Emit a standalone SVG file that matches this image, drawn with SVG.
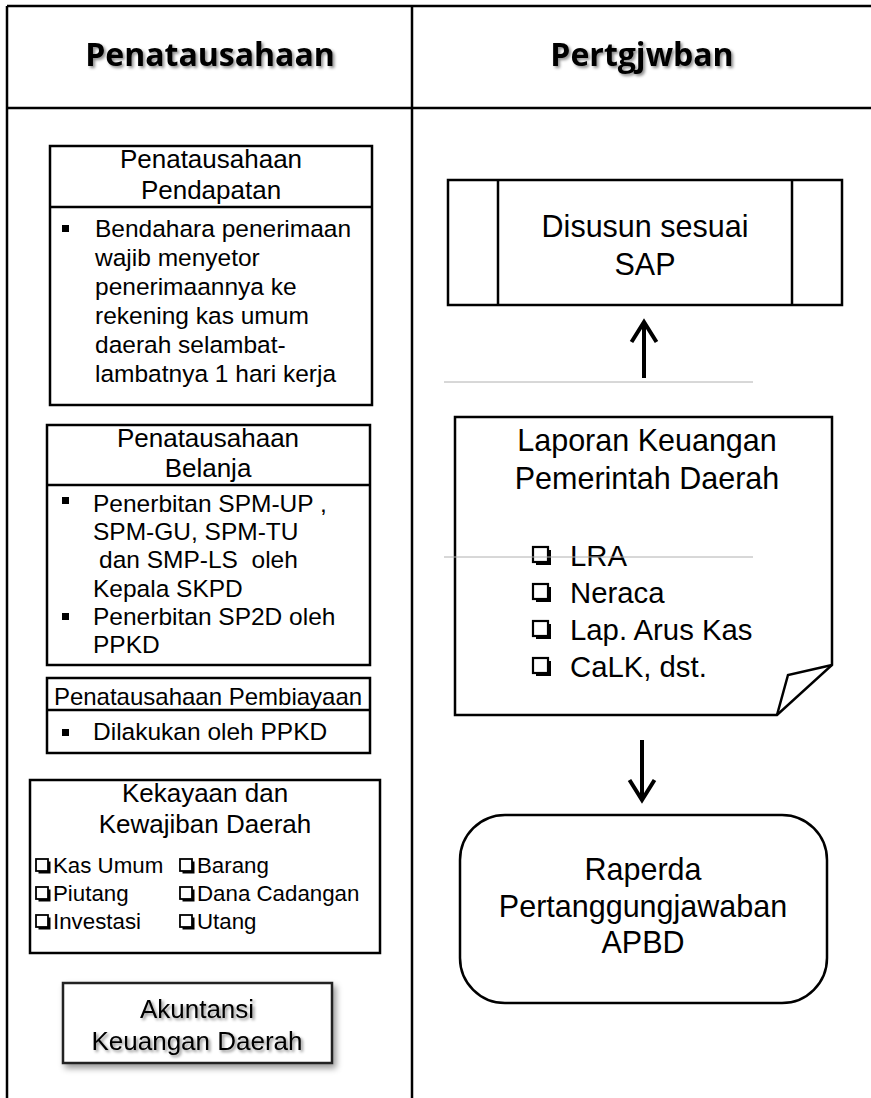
<svg xmlns="http://www.w3.org/2000/svg" width="871" height="1098" viewBox="0 0 871 1098">
<style>
  .t { font-family: "Liberation Sans", Arial, sans-serif; fill: #000; }
  .hd { font-family: "Open Sans", "Liberation Sans", sans-serif; font-weight: bold; font-size: 32px; text-anchor: middle; }
  .ttl { font-size: 26px; text-anchor: middle; }
  .body { font-size: 24.5px; }
  .item { font-size: 22.3px; }
  .big { font-size: 30.5px; }
  .lst { font-size: 29.3px; }
  .mid { text-anchor: middle; }
  .box { fill: #fff; stroke: #000; stroke-width: 2.5; }
  .ln { stroke: #000; stroke-width: 2.5; fill: none; }
  .grid { stroke: #000; stroke-width: 2.5; fill: none; }
  .thin { stroke: #b0b0b0; stroke-width: 1; }
  .bul { fill: #000; }
  .arrow { stroke: #000; stroke-width: 4; fill: none; }
</style>
<defs>
  <filter id="tshadow" x="-10%" y="-30%" width="120%" height="160%">
    <feDropShadow dx="2" dy="2" stdDeviation="1.5" flood-color="#000" flood-opacity="0.45"/>
  </filter>
  <filter id="bshadow" x="-10%" y="-20%" width="125%" height="145%">
    <feDropShadow dx="3" dy="4" stdDeviation="3" flood-color="#000" flood-opacity="0.4"/>
  </filter>
  <marker id="head" viewBox="-24 -16 28 32" refX="0" refY="0" markerWidth="28" markerHeight="32" markerUnits="userSpaceOnUse" orient="auto">
    <path d="M-20,-12.5 L0,0 L-20,12.5" fill="none" stroke="#000" stroke-width="4"/>
  </marker>
  <g id="cb-s">
    <rect x="2.5" y="2.5" width="12" height="12" fill="#000"/>
    <rect x="0" y="0" width="12" height="12" fill="#fff" stroke="#000" stroke-width="1.8"/>
  </g>
  <g id="cb-l">
    <rect x="3" y="3" width="15" height="15" fill="#000"/>
    <rect x="0" y="0" width="15" height="15" fill="#fff" stroke="#000" stroke-width="2.2"/>
  </g>
</defs>
<rect x="0" y="0" width="871" height="1098" fill="#fff"/>

<!-- table grid -->
<g id="table">
  <line class="grid" x1="7" y1="6" x2="871" y2="6"/>
  <line class="grid" x1="7" y1="6" x2="7" y2="1098"/>
  <line class="grid" x1="7" y1="108" x2="871" y2="108"/>
  <line class="grid" x1="412" y1="6" x2="412" y2="1098"/>
  <text class="hd" x="210" y="66" filter="url(#tshadow)">Penatausahaan</text>
  <text class="hd" x="642" y="66" filter="url(#tshadow)">Pertgjwban</text>
</g>

<!-- Penatausahaan Pendapatan -->
<g id="pendapatan">
  <rect class="box" x="50" y="146" width="322" height="259"/>
  <line class="ln" x1="50" y1="207" x2="372" y2="207"/>
  <text class="t ttl" x="211" y="168">Penatausahaan</text>
  <text class="t ttl" x="211" y="199">Pendapatan</text>
  <rect class="bul" x="62" y="225" width="7" height="7"/>
  <text class="t body" x="95" y="237">Bendahara penerimaan</text>
  <text class="t body" x="95" y="266">wajib menyetor</text>
  <text class="t body" x="95" y="295">penerimaannya ke</text>
  <text class="t body" x="95" y="324">rekening kas umum</text>
  <text class="t body" x="95" y="353">daerah selambat-</text>
  <text class="t body" x="95" y="382">lambatnya 1 hari kerja</text>
</g>

<!-- Penatausahaan Belanja -->
<g id="belanja">
  <rect class="box" x="47" y="425" width="323" height="240"/>
  <line class="ln" x1="47" y1="485" x2="370" y2="485"/>
  <text class="t ttl" x="208" y="447">Penatausahaan</text>
  <text class="t ttl" x="208" y="477">Belanja</text>
  <rect class="bul" x="62" y="497" width="7" height="7"/>
  <text class="t body" x="93" y="512">Penerbitan SPM-UP ,</text>
  <text class="t body" x="93" y="540">SPM-GU, SPM-TU</text>
  <text class="t body" x="99" y="568" xml:space="preserve">dan SMP-LS  oleh</text>
  <text class="t body" x="93" y="597">Kepala SKPD</text>
  <rect class="bul" x="62" y="613" width="7" height="7"/>
  <text class="t body" x="93" y="625">Penerbitan SP2D oleh</text>
  <text class="t body" x="93" y="653">PPKD</text>
</g>

<!-- Penatausahaan Pembiayaan -->
<g id="pembiayaan">
  <rect class="box" x="47" y="678" width="323" height="75"/>
  <line class="ln" x1="47" y1="710" x2="370" y2="710"/>
  <text class="t mid" x="208" y="705" style="font-size:24px">Penatausahaan Pembiayaan</text>
  <rect class="bul" x="62" y="729" width="7" height="7"/>
  <text class="t body" x="93" y="740">Dilakukan oleh PPKD</text>
</g>

<!-- Kekayaan dan Kewajiban Daerah -->
<g id="kekayaan">
  <rect class="box" x="30" y="780" width="350" height="173"/>
  <text class="t ttl" x="205" y="802">Kekayaan dan</text>
  <text class="t ttl" x="205" y="833">Kewajiban Daerah</text>
  <use href="#cb-s" x="36" y="859"/>
  <text class="t item" x="53" y="873">Kas Umum</text>
  <use href="#cb-s" x="36" y="887"/>
  <text class="t item" x="53" y="901">Piutang</text>
  <use href="#cb-s" x="36" y="915"/>
  <text class="t item" x="53" y="929">Investasi</text>
  <use href="#cb-s" x="180" y="859"/>
  <text class="t item" x="197" y="873">Barang</text>
  <use href="#cb-s" x="180" y="887"/>
  <text class="t item" x="197" y="901">Dana Cadangan</text>
  <use href="#cb-s" x="180" y="915"/>
  <text class="t item" x="197" y="929">Utang</text>
</g>

<!-- Akuntansi Keuangan Daerah -->
<g id="akuntansi">
  <rect x="63" y="983" width="269" height="80" fill="#fff" stroke="#222" stroke-width="2.5" filter="url(#bshadow)"/>
  <text class="t ttl" x="197" y="1018" filter="url(#tshadow)">Akuntansi</text>
  <text class="t ttl" x="197" y="1050" filter="url(#tshadow)">Keuangan Daerah</text>
</g>

<!-- Disusun sesuai SAP -->
<g id="disusun">
  <rect class="box" x="448" y="180" width="394" height="125"/>
  <line class="ln" x1="498" y1="180" x2="498" y2="305"/>
  <line class="ln" x1="792" y1="180" x2="792" y2="305"/>
  <text class="t big mid" x="645" y="237">Disusun sesuai</text>
  <text class="t big mid" x="645" y="275">SAP</text>
</g>

<!-- Laporan Keuangan Pemerintah Daerah -->
<g id="laporan">
  <path class="box" d="M455,417 L832,417 L832,665 L777,715 L455,715 Z"/>
  <path class="ln" d="M832,665 L788,675 L777,715"/>
  <text class="t big mid" x="647" y="451">Laporan Keuangan</text>
  <text class="t big mid" x="647" y="489">Pemerintah Daerah</text>
  <use href="#cb-l" x="533" y="547"/>
  <text class="t lst" x="570" y="566">LRA</text>
  <use href="#cb-l" x="533" y="584"/>
  <text class="t lst" x="570" y="603">Neraca</text>
  <use href="#cb-l" x="533" y="621"/>
  <text class="t lst" x="570" y="640">Lap. Arus Kas</text>
  <use href="#cb-l" x="533" y="658"/>
  <text class="t lst" x="570" y="677">CaLK, dst.</text>
</g>

<!-- Raperda -->
<g id="raperda">
  <rect class="box" x="460" y="815" width="367" height="188" rx="45" ry="45"/>
  <text class="t big mid" x="643" y="880">Raperda</text>
  <text class="t big mid" x="643" y="917">Pertanggungjawaban</text>
  <text class="t big mid" x="643" y="953">APBD</text>
</g>

<!-- thin gray lines -->
<g id="guides">
  <line class="thin" x1="444" y1="382" x2="753" y2="382"/>
  <line class="thin" x1="444" y1="557" x2="753" y2="557"/>
</g>

<!-- connectors -->
<g id="connectors">
  <line class="arrow" x1="644" y1="378" x2="644" y2="322" marker-end="url(#head)"/>
  <line class="arrow" x1="642" y1="740" x2="642" y2="800" marker-end="url(#head)"/>
</g>
</svg>
